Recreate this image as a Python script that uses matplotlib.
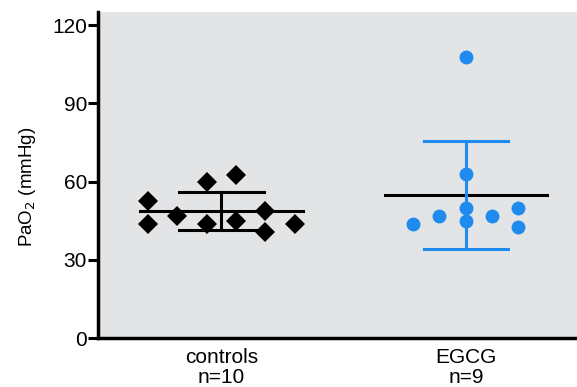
import numpy as np
import matplotlib.pyplot as plt

plt.rcParams['font.family'] = ['Liberation Sans', 'DejaVu Sans']

# groups
groups = ['controls', 'EGCG']
n_labels = ['n=10', 'n=9']

# PaO2 values (mmHg)
ctrl_vals = [52.5, 43.7, 46.8, 59.8, 43.7, 62.5, 44.9, 48.7, 40.6, 43.7]
ctrl_dx = [-0.30, -0.30, -0.18, -0.06, -0.06, 0.06, 0.06, 0.18, 0.18, 0.30]

egcg_vals = [107.9, 62.9, 49.7, 45.0, 43.7, 46.8, 46.8, 49.7, 42.6]
egcg_dx = [0.0, 0.0, 0.0, 0.0, -0.215, -0.11, 0.107, 0.213, 0.213]

yticks = [0, 30, 60, 90, 120]

blue = '#1f8bee'
bg = '#e3e4e6'

fig = plt.figure(figsize=(5.77, 3.87), dpi=100)
ax = fig.add_axes([98 / 577, 49 / 387, 479 / 577, 326 / 387])
ax.set_facecolor(bg)

def draw_group(x, vals, dx, marker, color, ms):
    vals = np.array(vals)
    m = vals.mean()
    sd = vals.std(ddof=1)
    # mean line
    ax.plot([x - 0.333, x + 0.333], [m, m], color='black', lw=2.2, zorder=2)
    # sd bar
    ax.plot([x, x], [m - sd, m + sd], color=color, lw=2.2, zorder=3)
    for y in (m - sd, m + sd):
        ax.plot([x - 0.172, x + 0.172], [y, y], color=color, lw=2.2, zorder=3)
    ax.plot(x + np.array(dx), vals, linestyle='none', marker=marker,
            color=color, ms=ms, mew=0, zorder=4)

draw_group(1, ctrl_vals, ctrl_dx, 'D', 'black', 10)
draw_group(2, egcg_vals, egcg_dx, 'o', blue, 10)

ax.set_xlim(0.495, 2.454)
ax.set_ylim(0, 125)
ax.set_yticks(yticks)
ax.set_xticks([1, 2])
ax.set_xticklabels([g + '\n' + n for g, n in zip(groups, n_labels)],
                   fontsize=15, linespacing=1.1)
ax.tick_params(axis='x', length=0, pad=7)
ax.tick_params(axis='y', length=7, width=2.2, labelsize=15, pad=1)

for s in ['top', 'right']:
    ax.spines[s].set_visible(False)
for s in ['left', 'bottom']:
    ax.spines[s].set_linewidth(2.5)

ax.set_ylabel('PaO$_2$ (mmHg)', fontsize=13.5)
ax.yaxis.set_label_coords(-0.125, 0.463)

fig.savefig('out.png', dpi=100)
